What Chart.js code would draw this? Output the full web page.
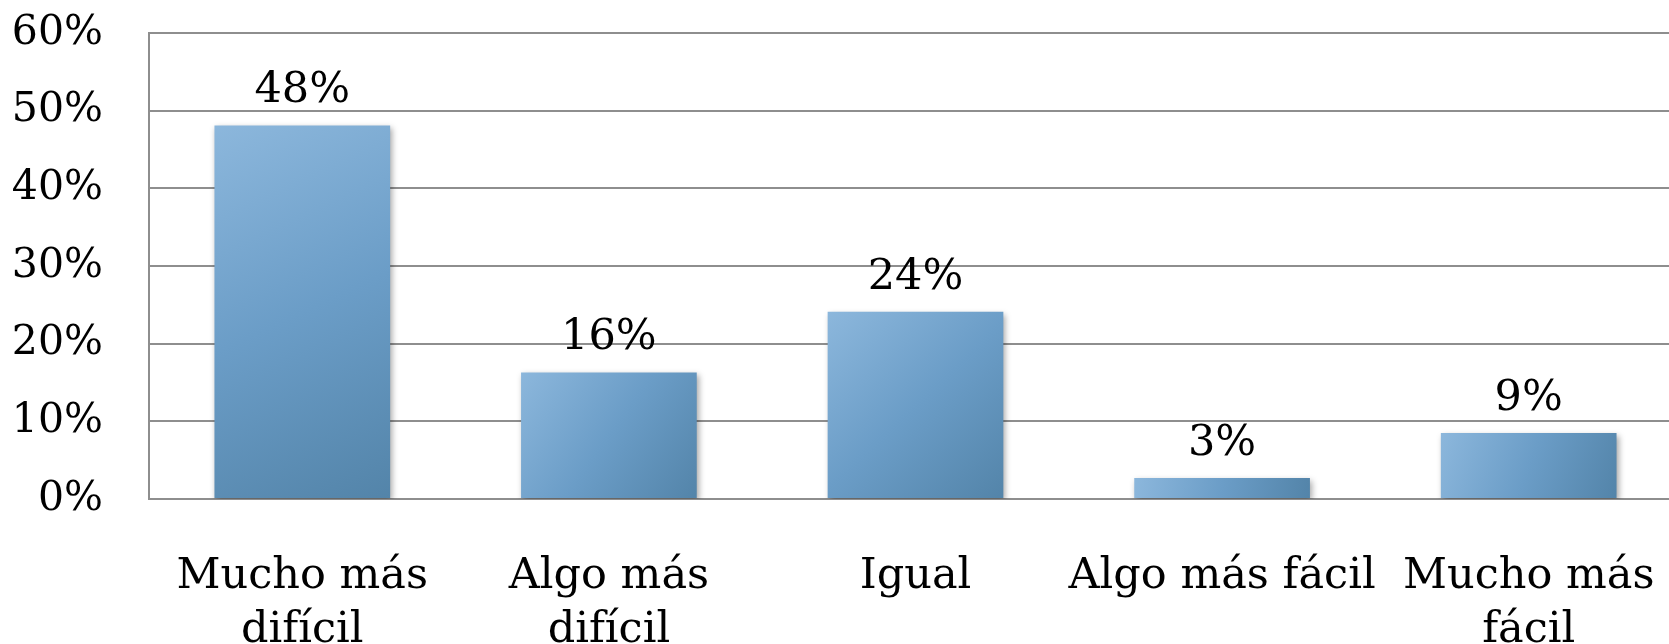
<!DOCTYPE html>
<html>
<head>
<meta charset="utf-8">
<script src="https://cdn.jsdelivr.net/npm/chart.js@4"></script>
<style>
    body { margin: 0; background: #fff; overflow: hidden; }
    /* plot area runs a bit past the right edge of the window in the original */
    #wrap { width: 1682px; height: 644px; }
</style>
</head>
<body>
<div id="wrap"><canvas id="chart"></canvas></div>
<script>
const categories = [
    ['Mucho más', 'difícil'],
    ['Algo más', 'difícil'],
    'Igual',
    'Algo más fácil',
    ['Mucho más', 'fácil']
];
const values = [48.1, 16.3, 24.1, 2.7, 8.5];
const valueLabels = ['48%', '16%', '24%', '3%', '9%'];
const yTicks = [0, 10, 20, 30, 40, 50, 60];

const serif = "'DejaVu Serif', 'Liberation Serif', serif";
const barPct = 0.573;

// bar fill: light top-left to darker bottom-right
function barFill(context) {
    const chart = context.chart;
    if (!chart.chartArea || context.type !== 'data') return '#6f9fc8';
    const xs = chart.scales.x, ys = chart.scales.y;
    const cx = xs.getPixelForValue(context.dataIndex);
    const half = xs.width / categories.length * barPct / 2;
    const top = ys.getPixelForValue(values[context.dataIndex]);
    const bottom = ys.getPixelForValue(0);
    const g = chart.ctx.createLinearGradient(cx - half, top, cx + half, bottom);
    g.addColorStop(0, '#8cb7dc');
    g.addColorStop(0.5, '#6b9dc7');
    g.addColorStop(1, '#5384a9');
    return g;
}

const shadowPlugin = {
    id: 'shadow',
    beforeDatasetsDraw(chart) {
        const ctx = chart.ctx;
        ctx.save();
        ctx.shadowColor = 'rgba(0,0,0,0.35)';
        ctx.shadowBlur = 6;
        ctx.shadowOffsetX = 2;
        ctx.shadowOffsetY = 3;
    },
    afterDatasetsDraw(chart) {
        chart.ctx.restore();
    }
};

const valueLabelPlugin = {
    id: 'valueLabels',
    afterDatasetsDraw(chart) {
        const ctx = chart.ctx;
        const meta = chart.getDatasetMeta(0);
        ctx.save();
        ctx.font = '43px ' + serif;
        ctx.fillStyle = '#000';
        ctx.textAlign = 'center';
        ctx.textBaseline = 'alphabetic';
        meta.data.forEach(function(bar, i) {
            ctx.fillText(valueLabels[i], bar.x, bar.y - 23);
        });
        ctx.restore();
    }
};

new Chart(document.getElementById('chart'), {
    type: 'bar',
    data: {
        labels: categories,
        datasets: [{
            data: values,
            backgroundColor: barFill,
            borderWidth: 0,
            barPercentage: barPct,
            categoryPercentage: 1
        }]
    },
    options: {
        responsive: true,
        maintainAspectRatio: false,
        animation: false,
        layout: { padding: { top: 33, right: 0, left: 0, bottom: 0 } },
        plugins: {
            legend: { display: false },
            tooltip: { enabled: false }
        },
        scales: {
            x: {
                grid: { display: false, drawTicks: false },
                border: { display: false },
                ticks: {
                    color: '#000',
                    font: { family: serif, size: 43, lineHeight: 1.25 },
                    padding: 51,
                    autoSkip: false,
                    maxRotation: 0
                },
                afterFit(scale) {
                    scale.height = 145;
                    scale.paddingTop = 0;
                    scale.paddingBottom = 0;
                    scale.paddingLeft = 0;
                    scale.paddingRight = 0;
                }
            },
            y: {
                min: 0,
                max: 60,
                afterBuildTicks(scale) {
                    scale.ticks = yTicks.map(v => ({ value: v }));
                },
                grid: { color: '#8e8e8e', lineWidth: 2, drawTicks: false },
                border: { display: true, color: '#8e8e8e', width: 2 },
                ticks: {
                    color: '#000',
                    font: { family: serif, size: 41 },
                    padding: 46,
                    callback: v => v + '%'
                },
                afterFit(scale) {
                    scale.width = 149;
                    scale.paddingTop = 0;
                    scale.paddingBottom = 0;
                }
            }
        }
    },
    plugins: [shadowPlugin, valueLabelPlugin]
});
</script>
</body>
</html>
